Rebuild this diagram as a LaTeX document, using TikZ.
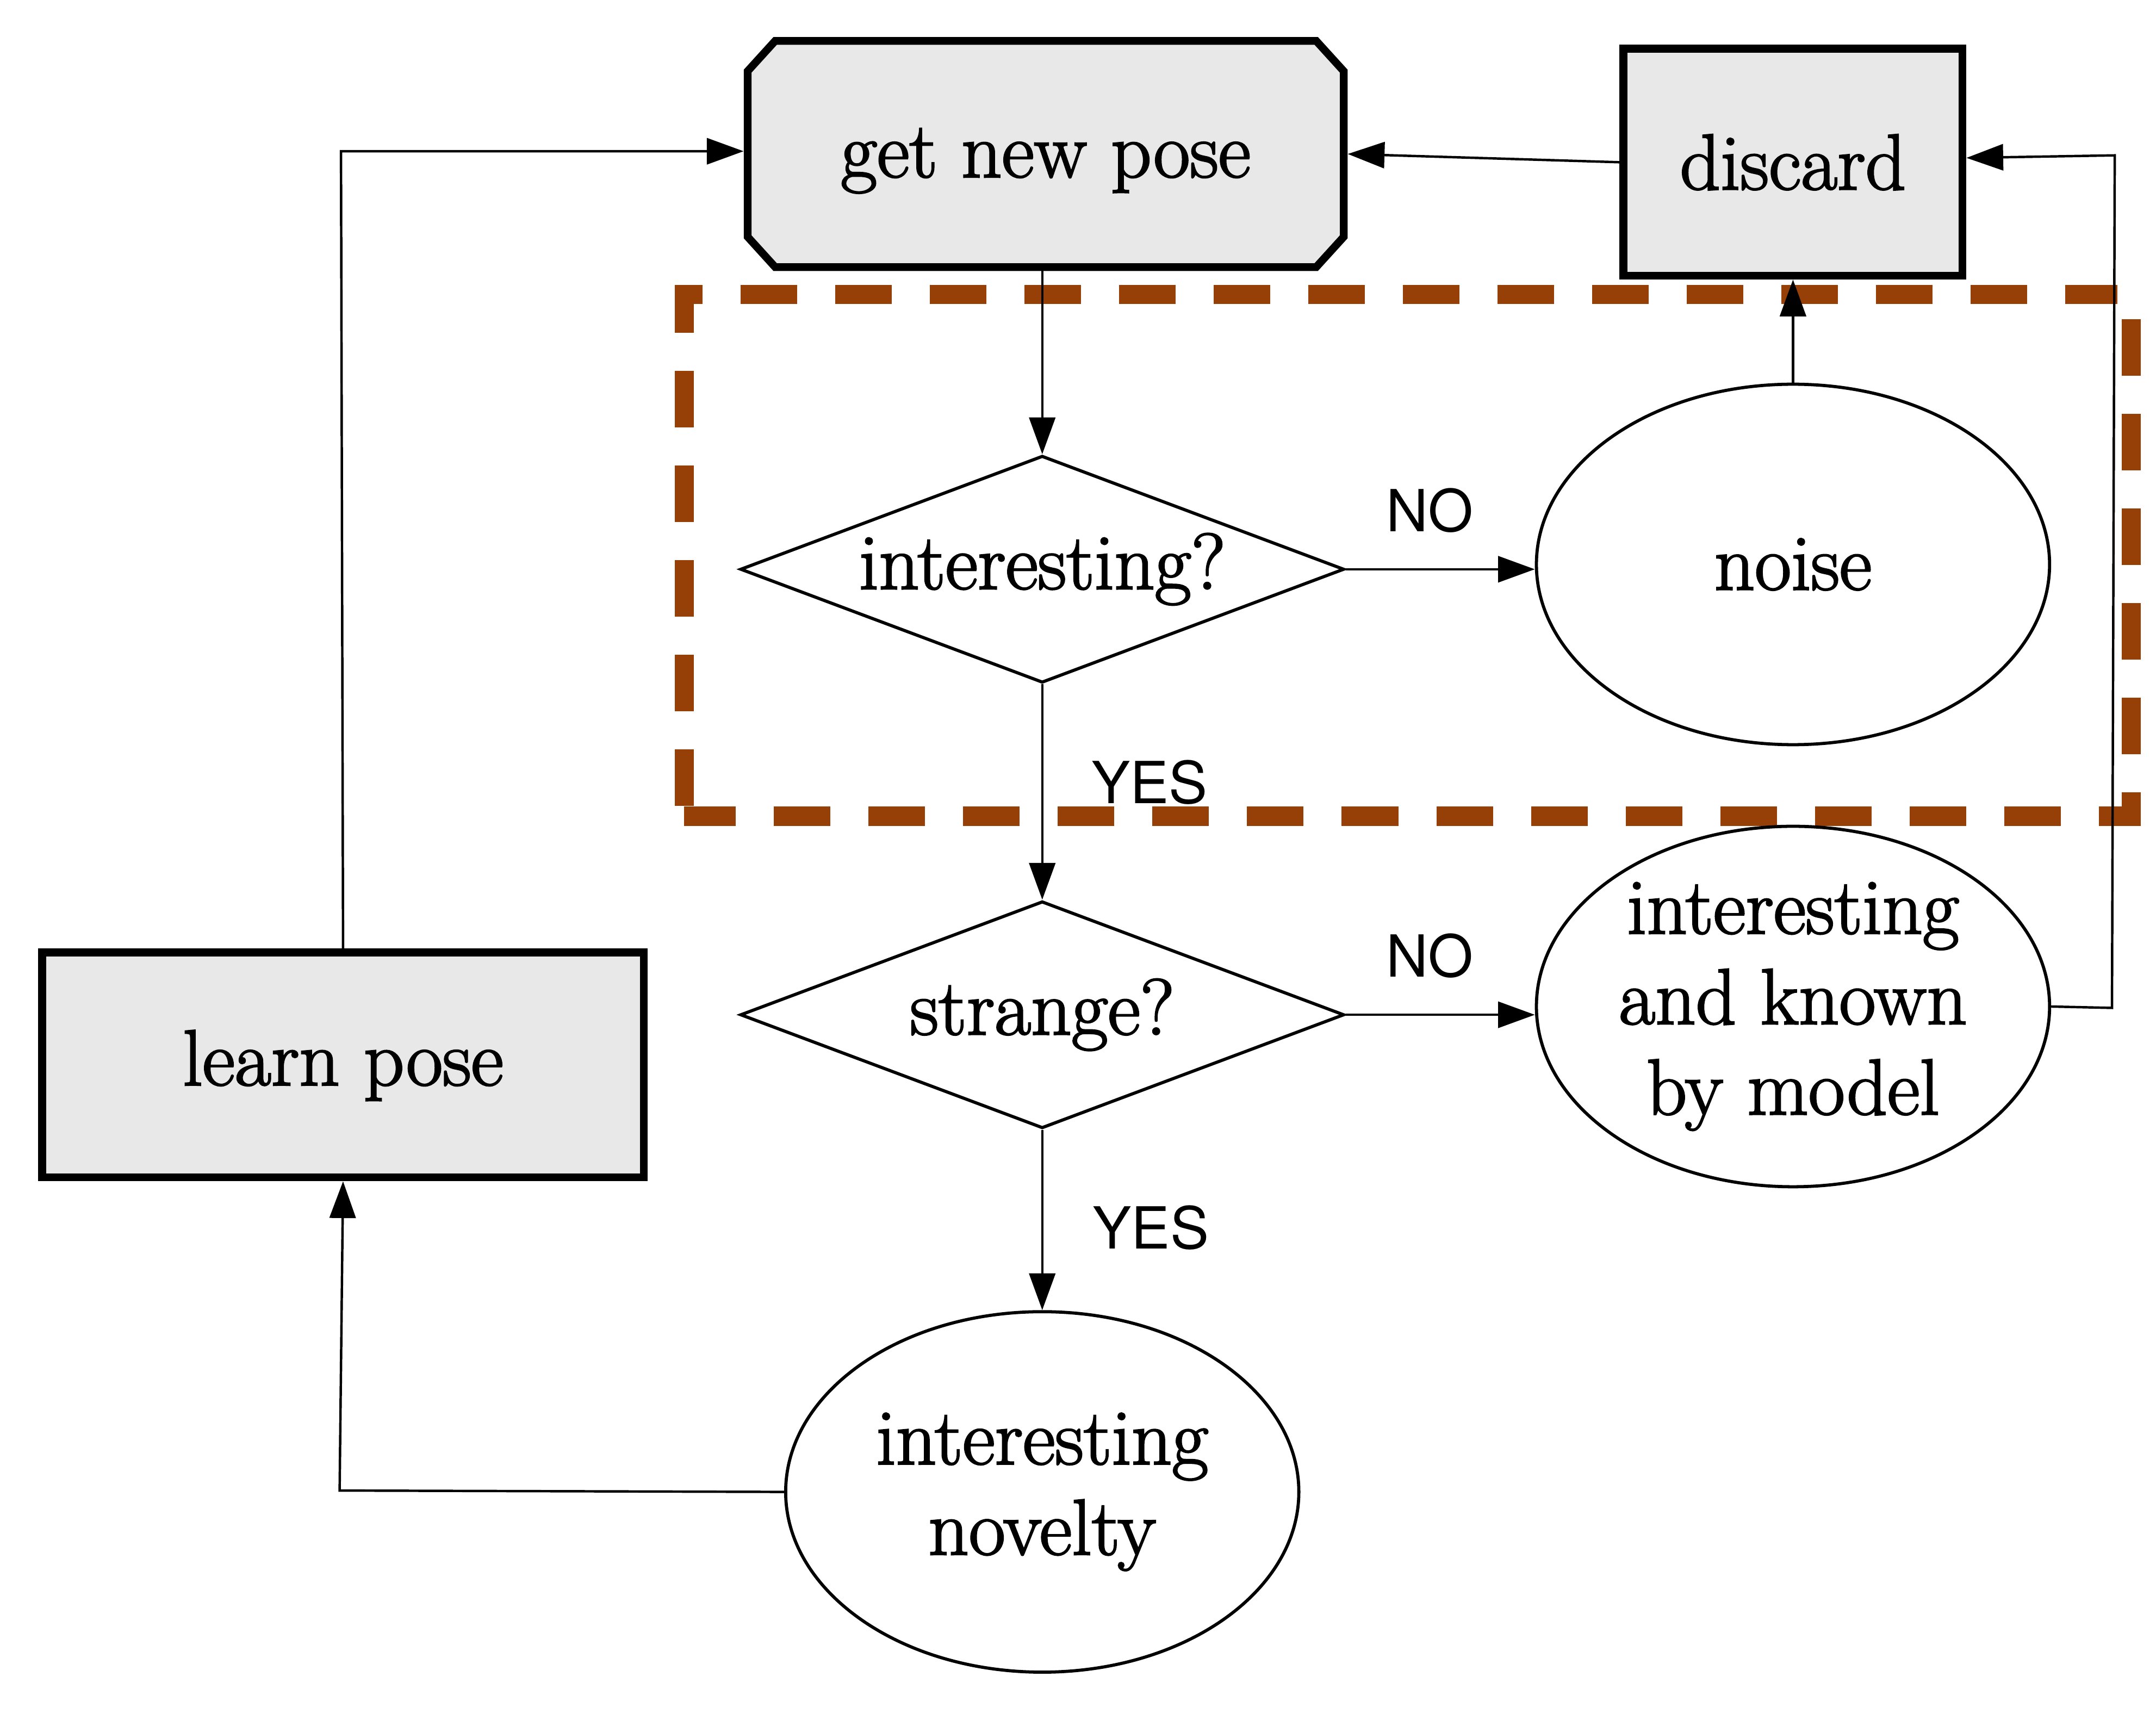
\documentclass[tikz,border=0pt]{standalone}
\usepackage{fontspec}
\newfontfamily\labelfont{TeX Gyre Heros}
\newfontfamily\nodefont{Latin Modern Roman}[FakeBold=2]
\usetikzlibrary{shapes.geometric,arrows.meta,calc}
\definecolor{framebrown}{RGB}{150,64,8}
\definecolor{boxgray}{RGB}{232,232,232}
\begin{document}
\begin{tikzpicture}[x=0.01cm,y=-0.01cm,
  txt/.style={font=\nodefont\fontsize{16.4}{18.7}\selectfont, align=center},
  boxline/.style={draw=black, line width=1.6pt, fill=boxgray},
  boxnode/.style={txt, rectangle, boxline, inner sep=0pt},
  decision/.style={txt, diamond, draw, line width=0.65pt, aspect=2.66, inner sep=0pt, minimum width=4.39cm, minimum height=1.65cm},
  state/.style={txt, ellipse, draw, line width=0.65pt, inner sep=0pt, minimum width=3.73cm, minimum height=2.62cm},
  conn/.style={line width=0.5pt, -{Triangle[length=7.6pt,width=5.4pt]}},
  lbl/.style={font=\labelfont\fontsize{12}{14}\selectfont, inner sep=0pt},
  frame/.style={draw=framebrown, line width=3.94pt, dash pattern=on 11.7pt off 7.87pt}
]
\useasboundingbox (0,0) rectangle (1568,1246.5);

% dashed frame
\draw[frame] (497.7,586) -- (497.7,214) -- (1540,214);
\draw[frame] (1550,232) -- (1550,593.6) -- (497.5,593.6);

% get new pose (octagon)
\filldraw[boxline] (563.75,29.75) -- (957.25,29.75) -- (977.25,51.75) -- (977.25,172.25)
  -- (957.25,194.25) -- (563.75,194.25) -- (543.75,172.25) -- (543.75,51.75) -- cycle;
\node[txt, rectangle, inner sep=0pt, outer sep=0.8pt, text height=12.8pt, text depth=3.2pt, minimum width=4.335cm, minimum height=1.645cm] (gnp) at (760.5,112) {get new pose};

\node[boxnode, minimum width=2.465cm, minimum height=1.65cm] (discard) at (1304,118) {discard};
\node[boxnode, text height=11.6pt, text depth=3.2pt, minimum width=4.375cm, minimum height=1.635cm] (learn) at (249.5,774.5) {learn pose};

\node[decision] (int) at (758,414) {interesting?};
\node[decision] (strange) at (758,738) {strange?};

\node[state] (noise) at (1304,410.5) {noise};
\node[state] (known) at (1304,732) {interesting\\and known\\by model};
\node[state] (novelty) at (758,1085) {interesting\\novelty};

\node[lbl] (no1) at (1040,371) {NO};
\node[lbl] (no2) at (1040,695) {NO};
\node[lbl] (yes1) at (836,569) {YES};
\node[lbl] (yes2) at (837,893) {YES};

\coordinate (k1) at (1536,733);
\coordinate (k2) at (1538,113);
\coordinate (n1) at (247,1084);
\coordinate (l1) at (248,110);

% connectors
\draw[conn] (int.north |- gnp.south) -- (int.north);
\draw[conn] (int.east) -- (int.east -| noise.west);
\draw[conn] (noise.north) -- (noise.north |- discard.south);
\draw[conn] (discard.west) -- (gnp.east);
\draw[conn] (int.south) -- (strange.north);
\draw[conn] (strange.east) -- (strange.east -| known.west);
\draw[conn] (strange.south) -- (novelty.north);
\draw[conn] (known.east) -- (k1) -- (k2) -- ([yshift=0.9pt]discard.east);
\draw[conn] (novelty.west) -- (n1) -- (learn.south);
\draw[conn] (learn.north) -- (l1) -- (l1 -| gnp.west);
\end{tikzpicture}
\end{document}
